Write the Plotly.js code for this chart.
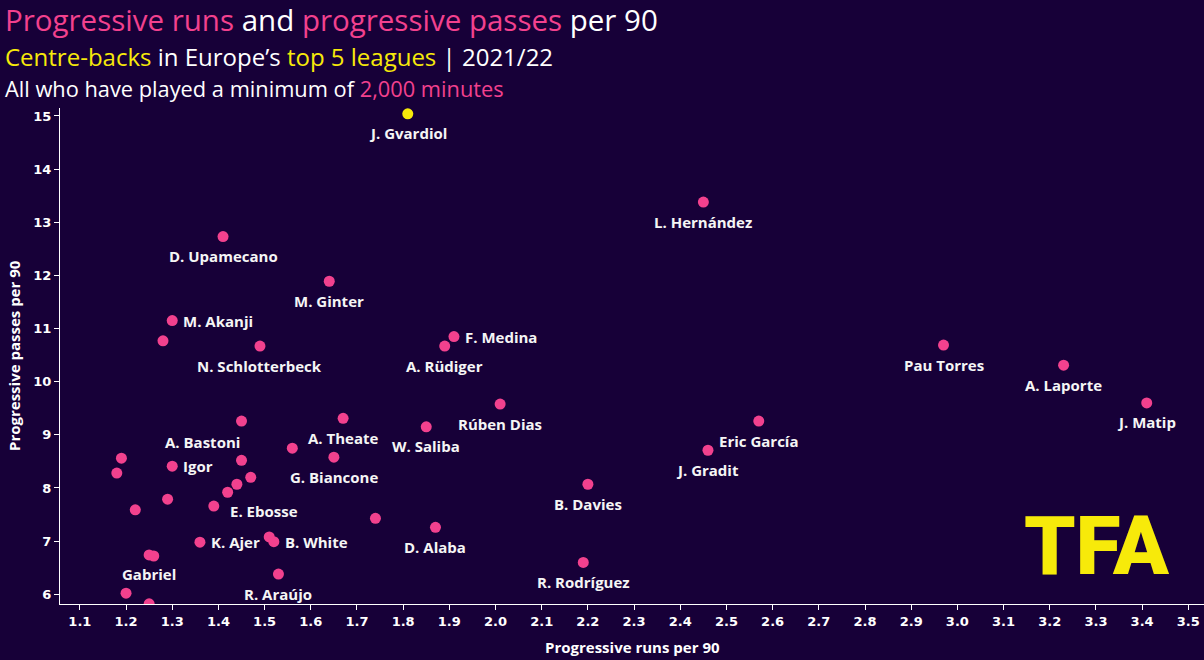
<!DOCTYPE html>
<html>
<head>
<meta charset="utf-8">
<script src="https://cdn.plot.ly/plotly-3.0.1.min.js"></script>
<style>
html,body{margin:0;padding:0;background:#170038;}
#chart{width:1204px;height:660px;}
</style>
</head>
<body>
<div id="chart"></div>
<script>
// ---- data ----
const players = ["J. Gvardiol","L. Hernández","D. Upamecano","M. Ginter","M. Akanji","","N. Schlotterbeck","F. Medina","A. Rüdiger","Pau Torres","A. Laporte","J. Matip","Rúben Dias","W. Saliba","Eric García","J. Gradit","B. Davies","D. Alaba","R. Rodríguez","A. Bastoni","A. Theate","","","Igor","","","G. Biancone","","","","","","E. Ebosse","","K. Ajer","","B. White","Gabriel","","R. Araújo","",""];
const progressiveRuns = [1.81,2.45,1.41,1.64,1.30,1.28,1.49,1.91,1.89,2.97,3.23,3.41,2.01,1.85,2.57,2.46,2.20,1.87,2.19,1.45,1.67,1.19,1.18,1.30,1.56,1.45,1.65,1.47,1.44,1.42,1.29,1.22,1.39,1.74,1.36,1.51,1.52,1.25,1.26,1.53,1.20,1.25];
const progressivePasses = [15.04,13.38,12.73,11.89,11.15,10.77,10.67,10.85,10.67,10.69,10.31,9.60,9.58,9.15,9.26,8.71,8.07,7.26,6.60,9.26,9.31,8.56,8.28,8.41,8.75,8.52,8.58,8.20,8.07,7.92,7.79,7.59,7.66,7.43,6.98,7.08,6.99,6.74,6.72,6.38,6.02,5.82];
const highlighted = "J. Gvardiol";
const xTicks = [1.1,1.2,1.3,1.4,1.5,1.6,1.7,1.8,1.9,2.0,2.1,2.2,2.3,2.4,2.5,2.6,2.7,2.8,2.9,3.0,3.1,3.2,3.3,3.4,3.5];
const yTicks = [6,7,8,9,10,11,12,13,14,15];
const xTitle = "Progressive runs per 90";
const yTitle = "Progressive passes per 90";

// ---- styling / label placement ----
const BG = "#170038";
const PINK = "#f2418e";
const YELLOW = "#f7ea0a";
const LABEL_FONT = {family:"Open Sans", size:15, color:"#f5f5f5", weight:"bold"};
const labelPlacement = {
  "M. Akanji":"right","F. Medina":"right","Igor":"right","K. Ajer":"right","B. White":"right",
  "E. Ebosse":{xshift:14, yshift:-5, xanchor:"left"},
  "A. Bastoni":{xshift:-39, yshift:-21, xanchor:"center"}
};

const pinkX=[],pinkY=[],yelX=[],yelY=[];
players.forEach((p,i)=>{
  if(p===highlighted){yelX.push(progressiveRuns[i]);yelY.push(progressivePasses[i]);}
  else{pinkX.push(progressiveRuns[i]);pinkY.push(progressivePasses[i]);}
});

const traces = [
  {x:pinkX,y:pinkY,type:"scatter",mode:"markers",marker:{color:PINK,size:11,line:{width:0}},hoverinfo:"skip"},
  {x:yelX,y:yelY,type:"scatter",mode:"markers",marker:{color:YELLOW,size:11,line:{width:0}},hoverinfo:"skip"}
];

const annotations = [];
players.forEach((p,i)=>{
  if(!p) return;
  const pl = labelPlacement[p];
  const a = {x:progressiveRuns[i],y:progressivePasses[i],xref:"x",yref:"y",text:p,showarrow:false,font:LABEL_FONT,yanchor:"middle"};
  if(pl==="right"){a.xanchor="left";a.xshift=9;a.yshift=0;}
  else if(pl){a.xanchor=pl.xanchor;a.xshift=pl.xshift;a.yshift=pl.yshift;}
  else {a.xanchor="center";a.yshift=-19.5;}
  annotations.push(a);
});

// pixel helpers for paper coordinates (plot area: x 60..1204, y 108..604)
const px = (v)=>(v-60)/1144;
const py = (v)=>(604-v)/496;

// title lines
const P = (t)=>'<span style="color:'+PINK+'">'+t+'</span>';
const Y = (t)=>'<span style="color:'+YELLOW+'">'+t+'</span>';
annotations.push({xref:"paper",yref:"paper",x:px(4),y:py(20),xanchor:"left",yanchor:"middle",showarrow:false,borderpad:0,
  text:P("Progressive runs")+" and "+P("progressive passes")+" per 90",font:{family:"Open Sans",size:29.5,color:"#ffffff"}});
annotations.push({xref:"paper",yref:"paper",x:px(4),y:py(56.4),xanchor:"left",yanchor:"middle",showarrow:false,borderpad:0,
  text:Y("Centre-backs")+" in Europe’s "+Y("top 5 leagues")+" | 2021/22",font:{family:"Open Sans",size:24,color:"#ffffff"}});
annotations.push({xref:"paper",yref:"paper",x:px(4),y:py(88),xanchor:"left",yanchor:"middle",showarrow:false,borderpad:0,
  text:"All who have played a minimum of "+P("2,000 minutes"),font:{family:"Open Sans",size:21.8,color:"#ffffff"}});
// axis titles
annotations.push({xref:"paper",yref:"paper",x:px(14),y:py(356),xanchor:"center",yanchor:"middle",textangle:-90,showarrow:false,
  text:yTitle,font:{family:"Open Sans",size:15,color:"#ffffff",weight:"bold"}});
annotations.push({xref:"paper",yref:"paper",x:px(632),y:py(647),xanchor:"center",yanchor:"middle",showarrow:false,
  text:xTitle,font:{family:"Open Sans",size:15,color:"#ffffff",weight:"bold"}});
// logo
annotations.push({xref:"paper",yref:"paper",x:px(1097),y:py(546),xanchor:"center",yanchor:"middle",showarrow:false,
  text:"TFA",font:{family:"Roboto",size:82,color:YELLOW,weight:900}});

const axisCommon = {showgrid:false,zeroline:false,showline:true,linecolor:"#ffffff",linewidth:1,
  ticks:"outside",ticklen:5,tickcolor:"#ffffff",
  tickfont:{family:"DejaVu Sans",size:13,color:"#ffffff",weight:"bold"}};

const layout = {
  width:1204,height:660,
  paper_bgcolor:BG,plot_bgcolor:BG,
  margin:{l:60,r:0,t:108,b:56},
  showlegend:false,
  xaxis:Object.assign({range:[1.057,3.534],tickvals:xTicks,ticktext:xTicks.map(v=>v.toFixed(1))},axisCommon),
  yaxis:Object.assign({range:[5.817,15.15],tickvals:yTicks},axisCommon),
  annotations:annotations
};
Plotly.newPlot("chart",traces,layout,{staticPlot:true,displayModeBar:false});
</script>
</body>
</html>
